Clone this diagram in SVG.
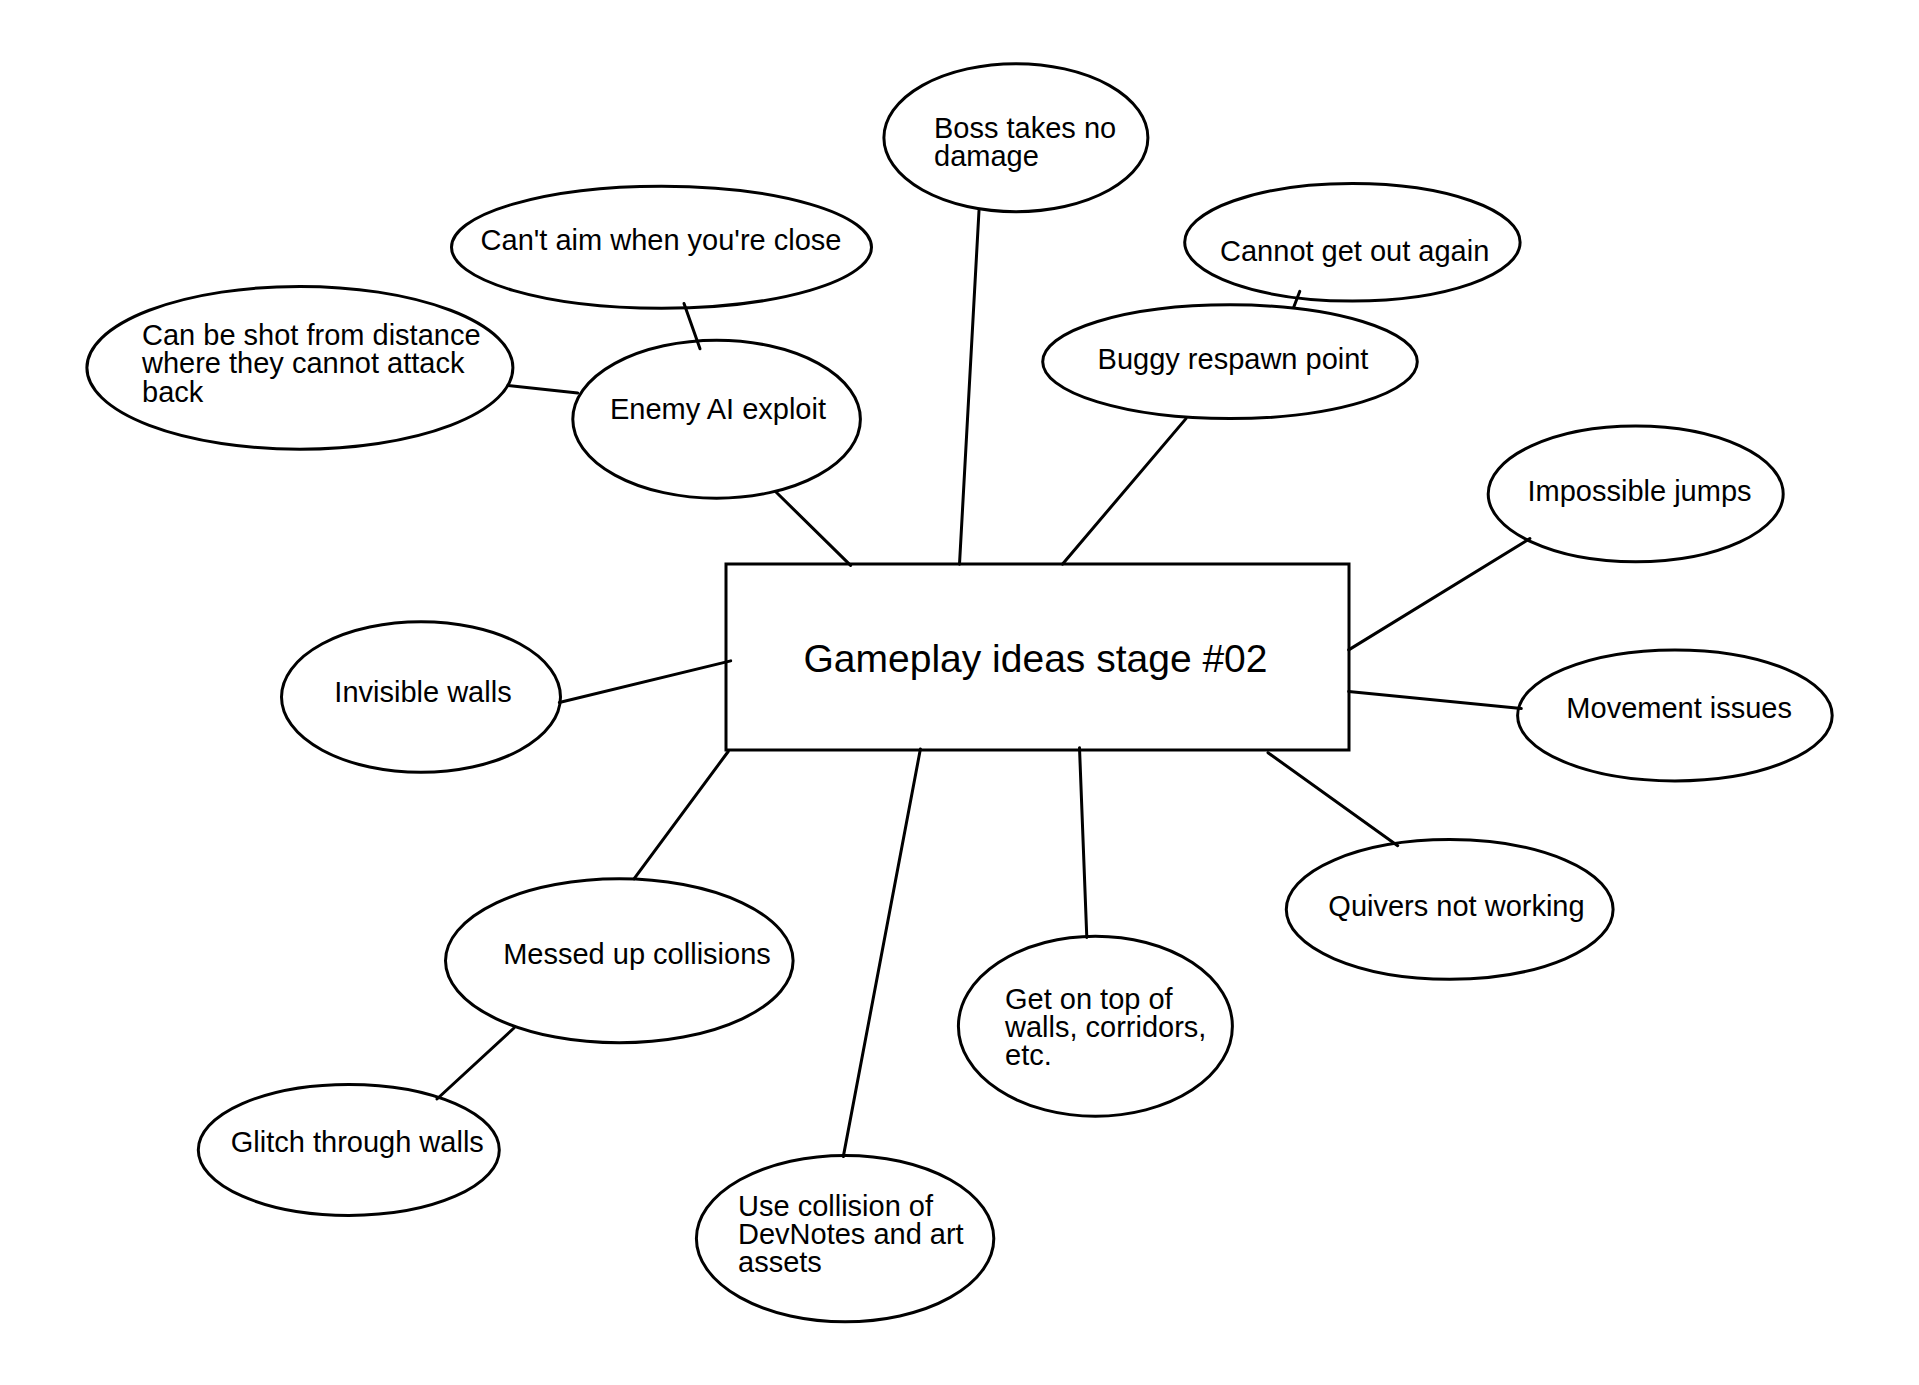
<svg xmlns="http://www.w3.org/2000/svg" width="1919" height="1385" viewBox="0 0 1919 1385">
<style>
.n{fill:#fff;stroke:#000;stroke-width:3}
.t{font-family:"Liberation Sans",Arial,sans-serif;font-size:29px;fill:#000}
.title{font-family:"Liberation Sans",Arial,sans-serif;font-size:39px;fill:#000}
.c line{stroke:#000;stroke-width:3;stroke-linecap:round}
</style>
<rect width="1919" height="1385" fill="#fff"/>
<g id="center">
<rect class="n" x="726" y="564" width="623" height="186"/>
<text class="title" x="1035.5" y="672" text-anchor="middle">Gameplay ideas stage #02</text>
</g>
<g id="cant-aim">
<ellipse class="n" cx="661.5" cy="247.2" rx="210" ry="61"/>
<text class="t" x="661" y="250" text-anchor="middle">Can't aim when you're close</text>
</g>
<g id="shot-distance">
<ellipse class="n" cx="299.9" cy="367.8" rx="213" ry="81.4"/>
<text class="t"><tspan x="142" y="344.5">Can be shot from distance</tspan><tspan x="142" y="373.3">where they cannot attack</tspan><tspan x="142" y="402">back</tspan></text>
</g>
<g id="enemy-ai">
<ellipse class="n" cx="716.6" cy="419.2" rx="143.8" ry="79"/>
<text class="t" x="718" y="419" text-anchor="middle">Enemy AI exploit</text>
</g>
<g id="boss">
<ellipse class="n" cx="1015.9" cy="137.7" rx="132" ry="74"/>
<text class="t"><tspan x="934" y="137.5">Boss takes no</tspan><tspan x="934" y="165.5">damage</tspan></text>
</g>
<g id="cannot-get-out">
<ellipse class="n" cx="1352.4" cy="242.3" rx="167.7" ry="58.8"/>
<text class="t" x="1354.7" y="261" text-anchor="middle">Cannot get out again</text>
</g>
<g id="buggy-respawn">
<ellipse class="n" cx="1230" cy="361.7" rx="187.3" ry="56.9"/>
<text class="t" x="1233" y="369" text-anchor="middle">Buggy respawn point</text>
</g>
<g id="impossible-jumps">
<ellipse class="n" cx="1635.7" cy="493.9" rx="147.5" ry="67.9"/>
<text class="t" x="1639.5" y="501" text-anchor="middle">Impossible jumps</text>
</g>
<g id="movement">
<ellipse class="n" cx="1674.9" cy="715.4" rx="157.3" ry="65.5"/>
<text class="t" x="1679.2" y="717.8" text-anchor="middle">Movement issues</text>
</g>
<g id="quivers">
<ellipse class="n" cx="1449.7" cy="909.4" rx="163.4" ry="69.8"/>
<text class="t" x="1456.5" y="916" text-anchor="middle">Quivers not working</text>
</g>
<g id="get-on-top">
<ellipse class="n" cx="1095.4" cy="1026.2" rx="137" ry="90"/>
<text class="t"><tspan x="1005" y="1009">Get on top of</tspan><tspan x="1005" y="1037">walls, corridors,</tspan><tspan x="1005" y="1065">etc.</tspan></text>
</g>
<g id="use-collision">
<ellipse class="n" cx="845.1" cy="1238.6" rx="148.7" ry="83.2"/>
<text class="t"><tspan x="738" y="1216">Use collision of</tspan><tspan x="738" y="1244">DevNotes and art</tspan><tspan x="738" y="1272">assets</tspan></text>
</g>
<g id="glitch">
<ellipse class="n" cx="348.8" cy="1149.9" rx="150.5" ry="65.5"/>
<text class="t" x="357.3" y="1152" text-anchor="middle">Glitch through walls</text>
</g>
<g id="messed-up">
<ellipse class="n" cx="619.3" cy="960.8" rx="173.8" ry="82"/>
<text class="t" x="637" y="963.8" text-anchor="middle">Messed up collisions</text>
</g>
<g id="invisible-walls">
<ellipse class="n" cx="421" cy="697" rx="139.5" ry="75.3"/>
<text class="t" x="423" y="702" text-anchor="middle">Invisible walls</text>
</g>
<g class="c" id="connectors">
<line x1="776" y1="492" x2="850.6" y2="565.4"/>
<line x1="684" y1="303.5" x2="700" y2="348.8"/>
<line x1="508" y1="385.5" x2="577.7" y2="392.9"/>
<line x1="979" y1="210.5" x2="959.5" y2="564.2"/>
<line x1="1186" y1="418.6" x2="1062.4" y2="564.2"/>
<line x1="1299.8" y1="291.3" x2="1293.7" y2="307.2"/>
<line x1="1529.9" y1="538.5" x2="1348.7" y2="649.9"/>
<line x1="1348.7" y1="691.5" x2="1521.3" y2="708.6"/>
<line x1="1268" y1="752.7" x2="1397.7" y2="845.7"/>
<line x1="1079.5" y1="747.8" x2="1086.8" y2="937.5"/>
<line x1="920.4" y1="749" x2="843.3" y2="1156.6"/>
<line x1="728.2" y1="751.5" x2="634" y2="878.8"/>
<line x1="514" y1="1028" x2="437" y2="1099"/>
<line x1="559.3" y1="702.5" x2="730.7" y2="660.9"/>
</g>
</svg>
